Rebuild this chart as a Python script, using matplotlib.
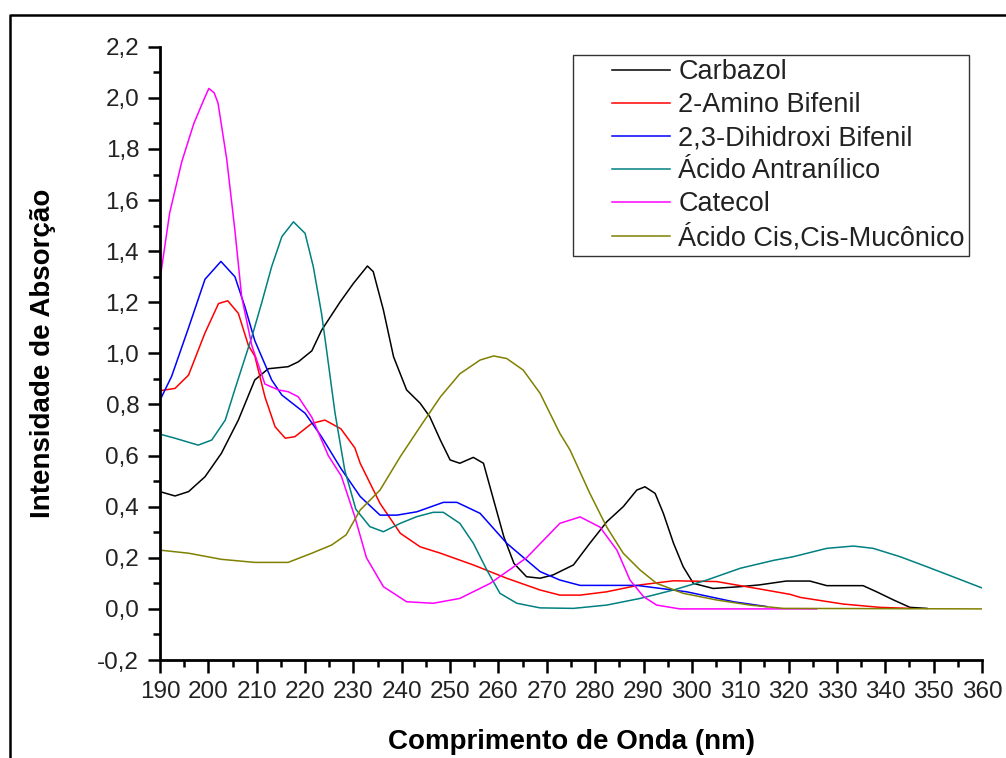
import numpy as np
import matplotlib
matplotlib.use("Agg")
import matplotlib.pyplot as plt
from matplotlib.lines import Line2D
from matplotlib.legend_handler import HandlerLine2D
from matplotlib.ticker import MultipleLocator, FuncFormatter

plt.rcParams['font.family'] = ['Liberation Sans', 'DejaVu Sans']

# Carbazol
carb_x = [190, 193.1, 195.9, 199.3, 202.7, 206.2, 209.6, 212.4, 216.5, 218.6, 221.4, 223.4,
          227.2, 230.0, 232.9, 234.1, 236.2, 238.3, 241.0, 243.8, 245.8, 248.0, 250.0, 252.0,
          254.8, 256.9, 259.0, 261.1, 263.2, 265.8, 268.6, 271.3, 275.5, 278.9, 282.4, 285.8,
          288.6, 290.3, 292.4, 294.1, 296.2, 298.2, 300.3, 304.4, 310.0, 314.0, 319.5, 324.4,
          327.9, 335.4, 338.2, 341.7, 345.1, 348.6]
carb_y = [0.459, 0.442, 0.459, 0.517, 0.609, 0.739, 0.896, 0.94, 0.948, 0.967, 1.01, 1.09,
          1.20, 1.274, 1.342, 1.32, 1.17, 0.987, 0.857, 0.805, 0.752, 0.66, 0.583, 0.57,
          0.593, 0.57, 0.426, 0.283, 0.178, 0.126, 0.12, 0.133, 0.172, 0.257, 0.341, 0.40,
          0.465, 0.478, 0.452, 0.374, 0.257, 0.165, 0.10, 0.08, 0.087, 0.094, 0.109, 0.109,
          0.091, 0.091, 0.067, 0.035, 0.006, 0.002]

# 2-Amino Bifenil
amino_x = [190, 193.1, 195.9, 199.3, 202.1, 204.0, 206.2, 208.3, 209.6, 211.7, 213.8, 215.9,
           217.9, 221.4, 224.1, 227.4, 230.3, 231.4, 235.5, 239.7, 243.8, 248.0, 254.8, 261.7,
           268.6, 272.7, 276.9, 282.4, 289.3, 296.2, 305.1, 313.4, 320.3, 322.4, 331.3, 338.9, 345.1]
amino_y = [0.854, 0.863, 0.915, 1.08, 1.195, 1.206, 1.157, 1.03, 0.99, 0.83, 0.713, 0.668,
           0.674, 0.726, 0.739, 0.705, 0.63, 0.57, 0.413, 0.296, 0.243, 0.218, 0.172, 0.12,
           0.074, 0.054, 0.054, 0.067, 0.094, 0.11, 0.107, 0.08, 0.057, 0.045, 0.019, 0.006, 0.002]

# 2,3-Dihidroxi Bifenil
dihid_x = [190, 192.4, 195.9, 199.3, 202.6, 205.5, 207.6, 209.6, 213.1, 215.2, 220.0, 223.4,
           227.4, 231.4, 235.5, 239.0, 243.1, 248.6, 251.4, 256.2, 261.7, 268.6, 272.7, 276.9,
           288.6, 298.9, 308.6, 315.5]
dihid_y = [0.817, 0.91, 1.10, 1.29, 1.36, 1.30, 1.18, 1.05, 0.896, 0.837, 0.766, 0.674,
           0.55, 0.44, 0.367, 0.367, 0.38, 0.417, 0.417, 0.374, 0.257, 0.146, 0.113, 0.092,
           0.092, 0.067, 0.028, 0.009]

# Acido Antranilico
antr_x = [190, 193.1, 197.9, 200.7, 203.5, 205.5, 207.2, 209.0, 211.0, 213.1, 215.2, 217.6,
          220.0, 221.7, 223.4, 224.4, 226.2, 228.2, 230.5, 233.4, 236.2, 239.7, 243.1, 246.5,
          248.6, 252.0, 254.8, 257.6, 260.3, 263.8, 268.6, 275.5, 282.4, 289.3, 296.2, 303.1,
          310.0, 316.9, 320.9, 327.9, 333.4, 337.5, 343.1, 348.6, 354.8, 360.0]
antr_y = [0.684, 0.668, 0.641, 0.661, 0.739, 0.86, 0.96, 1.065, 1.196, 1.34, 1.457, 1.515,
          1.47, 1.34, 1.157, 1.02, 0.766, 0.544, 0.39, 0.322, 0.302, 0.335, 0.361, 0.378,
          0.378, 0.335, 0.257, 0.152, 0.061, 0.022, 0.004, 0.002, 0.015, 0.041, 0.074, 0.113,
          0.159, 0.19, 0.204, 0.237, 0.246, 0.237, 0.204, 0.165, 0.12, 0.082]

# Catecol
cat_x = [190, 192.0, 194.5, 197.0, 199.0, 200.1, 201.2, 202.0, 203.8, 205.5, 206.9, 209.0,
         211.7, 214.5, 216.5, 218.6, 221.4, 224.8, 227.5, 230.3, 232.7, 236.2, 241.0, 246.5,
         252.0, 258.3, 265.8, 272.7, 276.9, 281.0, 284.5, 287.2, 290.0, 292.7, 297.5, 325.8]
cat_y = [1.29, 1.55, 1.75, 1.90, 1.99, 2.037, 2.02, 1.98, 1.76, 1.48, 1.22, 1.03,
         0.88, 0.857, 0.85, 0.83, 0.75, 0.60, 0.52, 0.36, 0.20, 0.087, 0.028, 0.022,
         0.041, 0.10, 0.20, 0.335, 0.36, 0.32, 0.23, 0.113, 0.048, 0.015, 0.0, 0.0]

# Acido Cis,Cis-Muconico
muc_x = [190, 195.9, 202.7, 209.6, 216.5, 221.4, 225.5, 228.5, 231.4, 235.5, 239.7, 243.8,
         248.0, 252.0, 256.2, 259.0, 261.7, 265.1, 268.6, 272.7, 274.8, 278.9, 282.4, 285.8,
         289.3, 292.7, 298.2, 305.1, 312.0, 318.9, 360.0]
muc_y = [0.23, 0.218, 0.194, 0.182, 0.182, 0.218, 0.25, 0.29, 0.387, 0.465, 0.596, 0.713,
         0.83, 0.92, 0.974, 0.99, 0.98, 0.935, 0.844, 0.687, 0.622, 0.452, 0.32, 0.218,
         0.152, 0.10, 0.061, 0.035, 0.015, 0.002, 0.0]

series = [
    ("Carbazol", carb_x, carb_y, "#000000"),
    ("2-Amino Bifenil", amino_x, amino_y, "#ff0000"),
    ("2,3-Dihidroxi Bifenil", dihid_x, dihid_y, "#0000ff"),
    ("Ácido Antranílico", antr_x, antr_y, "#008080"),
    ("Catecol", cat_x, cat_y, "#ff00ff"),
    ("Ácido Cis,Cis-Mucônico", muc_x, muc_y, "#808000"),
]

fig = plt.figure(figsize=(10.06, 7.58), dpi=100)
ax = fig.add_axes([160/1006, 1-660/758, (982-160)/1006, (660-46.8)/758])

for name, x, y, c in series:
    ax.plot(x, y, color=c, lw=1.1, label=name)

ax.set_xlim(190, 360)
ax.set_ylim(-0.2, 2.2)
ax.xaxis.set_major_locator(MultipleLocator(10))
ax.xaxis.set_minor_locator(MultipleLocator(5))
ax.yaxis.set_major_locator(MultipleLocator(0.2))
ax.yaxis.set_minor_locator(MultipleLocator(0.1))
ax.yaxis.set_major_formatter(FuncFormatter(lambda v, p: f"{v:.1f}".replace(".", ",").replace("-0,0", "0,0")))

for s in ["top", "right"]:
    ax.spines[s].set_visible(False)
for s in ["left", "bottom"]:
    ax.spines[s].set_linewidth(2.0)

ax.tick_params(which="major", direction="out", length=9, width=1.8, labelsize=17.5,
               labelcolor="#222222", pad=6)
ax.tick_params(which="minor", direction="out", length=5, width=1.8)

ax.set_xlabel("Comprimento de Onda (nm)", fontsize=20, fontweight="bold", labelpad=19)
ax.set_ylabel("Intensidade de Absorção", fontsize=20, fontweight="bold", labelpad=30)

leg = ax.legend(loc="upper right", bbox_to_anchor=(969/1006, 1-55/758),
                bbox_transform=fig.transFigure, borderaxespad=0, fontsize=19.5, frameon=True,
                fancybox=False, edgecolor="black", borderpad=0.15, labelspacing=0.26,
                handlelength=3.4, handletextpad=0.33,
                handler_map={Line2D: HandlerLine2D(xpad=1.26)})
leg.get_frame().set_linewidth(1.0)
for t in leg.get_texts():
    t.set_color("#222222")

# outer frame (top and left edges visible)
fig.add_artist(Line2D([10/1006, 10/1006, 1.0], [0.0, 1-15/758, 1-15/758],
                      transform=fig.transFigure, color="black", lw=1.8))

fig.savefig("out.png", dpi=100)
